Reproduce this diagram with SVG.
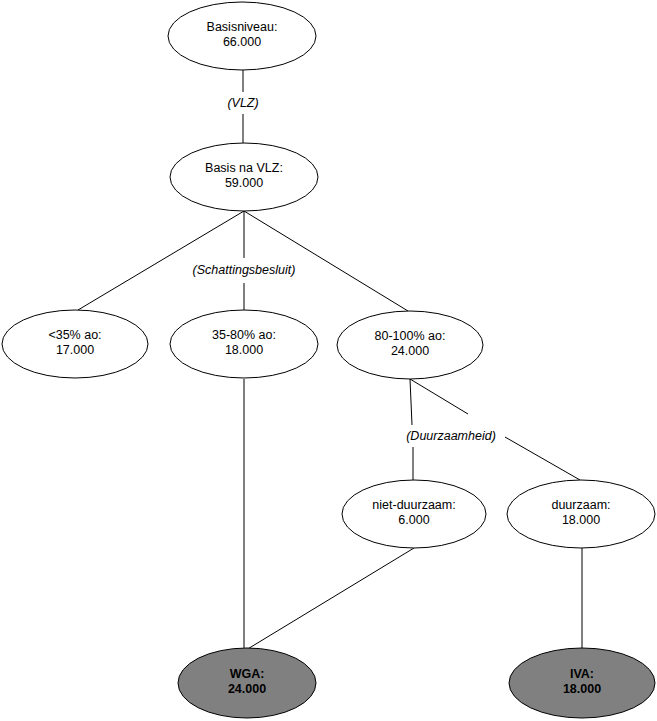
<svg xmlns="http://www.w3.org/2000/svg" width="657" height="721" viewBox="0 0 657 721">
<style>
.n{fill:#fff;stroke:#000;stroke-width:1}
.d{fill:#808080;stroke:#000;stroke-width:1}
.t{font-family:"Liberation Sans",Arial,sans-serif;font-size:12.5px;text-anchor:middle;fill:#000}
.b{font-weight:bold}
.l{font-family:"Liberation Sans",Arial,sans-serif;font-size:12.5px;font-style:italic;text-anchor:middle;fill:#000}
.c{stroke:#000;stroke-width:1;fill:none}
</style>
<rect width="657" height="721" fill="#fff"/>
<g id="connectors">
<line class="c" x1="243" y1="70" x2="243" y2="92"/>
<line class="c" x1="243" y1="114" x2="243" y2="143"/>
<line class="c" x1="244" y1="211" x2="78" y2="310"/>
<line class="c" x1="244" y1="211" x2="244" y2="258"/>
<line class="c" x1="244" y1="283" x2="244" y2="310"/>
<line class="c" x1="244" y1="211" x2="408" y2="311"/>
<line class="c" x1="410" y1="379" x2="412" y2="425"/>
<line class="c" x1="413" y1="447" x2="413" y2="480"/>
<line class="c" x1="410" y1="379" x2="468" y2="414"/>
<line class="c" x1="505" y1="437" x2="580" y2="480"/>
<line class="c" x1="244" y1="379" x2="244" y2="648"/>
<line class="c" x1="414" y1="548" x2="246" y2="650"/>
<line class="c" x1="582" y1="548" x2="582" y2="648"/>
<text class="l" x="243" y="107">(VLZ)</text>
<text class="l" x="244" y="274">(Schattingsbesluit)</text>
<text class="l" x="451" y="440">(Duurzaamheid)</text>
</g>
<g id="basisniveau"><ellipse class="n" cx="242" cy="36" rx="74" ry="34"/><text class="t" x="242" y="31">Basisniveau:</text><text class="t" x="242" y="46">66.000</text></g>
<g id="basis-na-vlz"><ellipse class="n" cx="244" cy="177" rx="74" ry="34"/><text class="t" x="244" y="172">Basis na VLZ:</text><text class="t" x="244" y="187">59.000</text></g>
<g id="lt35"><ellipse class="n" cx="75" cy="344" rx="73" ry="34"/><text class="t" x="75" y="339">&lt;35% ao:</text><text class="t" x="75" y="354">17.000</text></g>
<g id="p35-80"><ellipse class="n" cx="244" cy="344" rx="74" ry="34"/><text class="t" x="244" y="339">35-80% ao:</text><text class="t" x="244" y="354">18.000</text></g>
<g id="p80-100"><ellipse class="n" cx="410" cy="345" rx="73" ry="34"/><text class="t" x="410" y="340">80-100% ao:</text><text class="t" x="410" y="355">24.000</text></g>
<g id="niet-duurzaam"><ellipse class="n" cx="414" cy="514" rx="72" ry="34"/><text class="t" x="414" y="509">niet-duurzaam:</text><text class="t" x="414" y="524">6.000</text></g>
<g id="duurzaam"><ellipse class="n" cx="581" cy="514" rx="74" ry="34"/><text class="t" x="581" y="509">duurzaam:</text><text class="t" x="581" y="524">18.000</text></g>
<g id="wga"><ellipse class="d" cx="247" cy="683" rx="69" ry="35"/><text class="t b" x="247" y="678">WGA:</text><text class="t b" x="247" y="693">24.000</text></g>
<g id="iva"><ellipse class="d" cx="582" cy="683" rx="73" ry="35"/><text class="t b" x="582" y="678">IVA:</text><text class="t b" x="582" y="693">18.000</text></g>
</svg>
